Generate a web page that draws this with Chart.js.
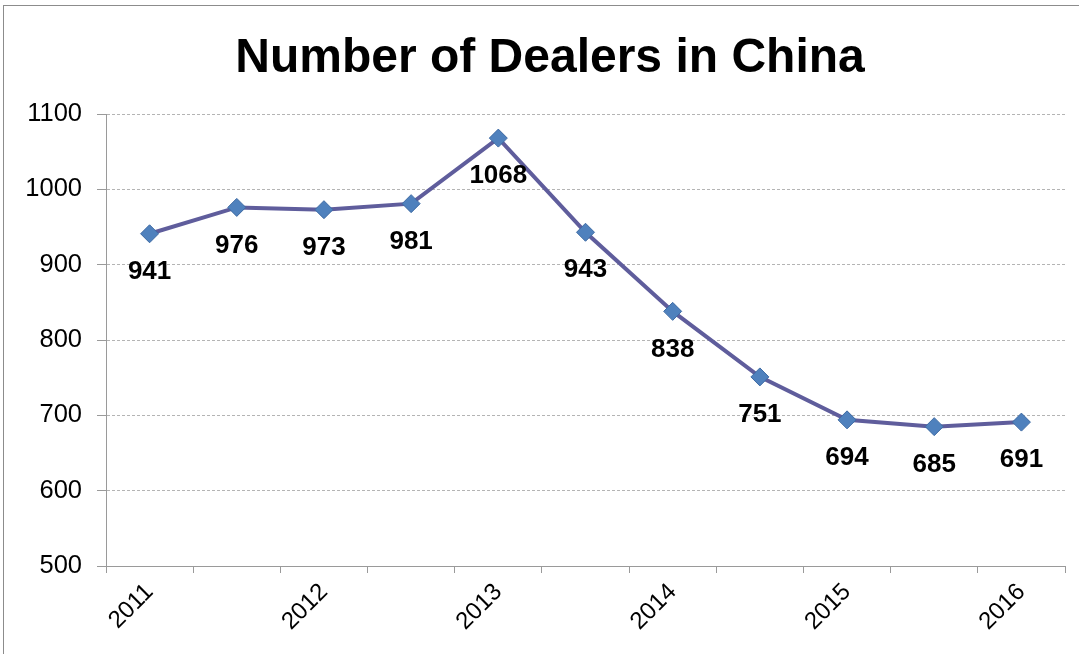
<!DOCTYPE html>
<html>
<head>
<meta charset="utf-8">
<script src="https://cdn.jsdelivr.net/npm/chart.js@4"></script>
<style>
  html, body { margin: 0; padding: 0; background: #fff; overflow: hidden; }
  #frame {
    position: absolute; left: 3px; top: 5px; width: 1100px; height: 700px;
    border: 1px solid #8c8c8c; box-sizing: border-box;
  }
  #wrap { position: absolute; left: 0; top: 0; width: 1079px; height: 654px; }
</style>
</head>
<body>
<div id="frame"></div>
<div id="wrap"><canvas id="dealerChart" width="1079" height="654"></canvas></div>
<script>
// Data
const categories = ["2011", "2011b", "2012", "2012b", "2013", "2013b", "2014", "2014b", "2015", "2015b", "2016"];
const tickLabels = ["2011", "", "2012", "", "2013", "", "2014", "", "2015", "", "2016"];
const dealers = [941, 976, 973, 981, 1068, 943, 838, 751, 694, 685, 691];
const chartTitle = "Number of Dealers in China";

const FONT = "'Liberation Sans', Arial, sans-serif";

// --- title, drawn where the original sits ---
const titlePlugin = {
  id: "titlePlugin",
  afterDraw(chart) {
    const ctx = chart.ctx;
    ctx.save();
    ctx.font = "bold 48px " + FONT;
    ctx.fillStyle = "#000";
    ctx.textAlign = "center";
    ctx.textBaseline = "alphabetic";
    ctx.fillText(chartTitle, 550, 72);
    ctx.restore();
  }
};

// --- value labels under each point ---
const valueLabels = {
  id: "valueLabels",
  afterDatasetsDraw(chart) {
    const ctx = chart.ctx;
    const meta = chart.getDatasetMeta(0);
    ctx.save();
    ctx.font = "bold 26px " + FONT;
    ctx.fillStyle = "#000";
    ctx.textAlign = "center";
    ctx.textBaseline = "middle";
    meta.data.forEach((pt, i) => {
      ctx.fillText(String(dealers[i]), pt.x, pt.y + 38);
    });
    ctx.restore();
  }
};

const ctx = document.getElementById("dealerChart").getContext("2d");
const myChart = new Chart(ctx, {
  type: "line",
  data: {
    labels: categories,
    datasets: [{
      data: dealers,
      borderColor: "#5f5d9c",
      borderWidth: 4,
      backgroundColor: "#4f81bd",
      pointBackgroundColor: "#4f81bd",
      pointBorderColor: "#3d6aa3",
      pointBorderWidth: 1,
      pointStyle: "rectRot",
      pointRadius: 9,
      tension: 0
    }]
  },
  options: {
    responsive: false,
    animation: false,
    layout: { padding: { left: 0, right: 14, top: 114, bottom: 0 } },
    plugins: {
      legend: { display: false },
      tooltip: { enabled: false },
      title: { display: false }
    },
    scales: {
      x: {
        offset: true,
        grid: { offset: true, drawOnChartArea: false, drawTicks: true, tickLength: 7, color: "#9a9a9a" },
        border: { color: "#9a9a9a", width: 1 },
        ticks: {
          autoSkip: false,
          minRotation: 45,
          maxRotation: 45,
          padding: 5,
          color: "#000",
          font: { family: FONT, size: 24 },
          callback: (val, i) => tickLabels[i]
        },
        afterFit(scale) { scale.height = 88; }
      },
      y: {
        min: 500,
        max: 1100,
        ticks: {
          stepSize: 100,
          padding: 15,
          color: "#000",
          font: { family: FONT, size: 25.5 },
          callback: (v) => String(v)
        },
        grid: { color: "#b4b4b4", tickLength: 9, tickColor: "#9a9a9a", tickBorderDash: [] },
        border: { color: "#9a9a9a", width: 1, dash: [3, 2] },
        afterFit(scale) { scale.width = 106; }
      }
    }
  },
  plugins: [valueLabels, titlePlugin]
});
</script>
</body>
</html>
